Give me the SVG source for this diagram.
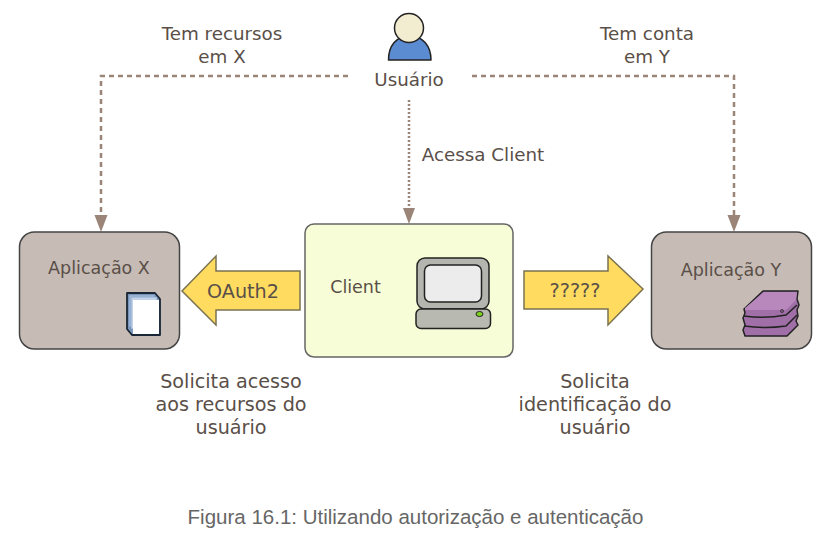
<svg xmlns="http://www.w3.org/2000/svg" width="828" height="536" viewBox="0 0 828 536">
<style>
text{font-family:"DejaVu Sans",Verdana,sans-serif;font-size:18.300px;fill:#5a4f48;text-anchor:middle}
.s{font-size:17.500px}
.l{font-size:19.200px}
.cap{font-family:"Liberation Sans",Arial,sans-serif;font-size:20.500px;fill:#666}
.app{fill:#c6bcb5;stroke:#444;stroke-width:1.5}
.arrow{fill:#ffdc60;stroke:#7a7250;stroke-width:1.5}
.dash{fill:none;stroke:#9a8578;stroke-width:2.5;stroke-dasharray:5 4}
.dot{fill:none;stroke:#9a8578;stroke-width:2.5;stroke-dasharray:2 2}
.ah{fill:#9a8578}
.ic{stroke:#222;stroke-width:1.5;stroke-linejoin:round}
</style>
<rect width="828" height="536" fill="#fff"/>
<g id="connectors">
<path class="dash" d="M348 76H101V217"/>
<path class="ah" d="M94.500 215H107.500L101 232Z"/>
<path class="dash" d="M472 76H734V217"/>
<path class="ah" d="M727.500 215H740.500L734 232Z"/>
<path class="dot" d="M409 100V210"/>
<path class="ah" d="M403 208H415L409 224Z"/>
</g>
<g id="usuario">
<path class="ic" d="M388.500 60C388.500 46 396 36 409.500 36C423 36 431 46 431 60Z" fill="#5b8bd0"/>
<circle class="ic" cx="409" cy="28" r="14.500" fill="#f2ecd0"/>
<text x="409" y="85.500">Usuário</text>
</g>
<g id="aplicacao-x">
<rect class="app" x="19.500" y="232" width="160" height="117" rx="15"/>
<text class="s" x="99" y="274">Aplicação X</text>
<path d="M127 293H155L160 299V335H132L127 329Z" fill="#7d98bd" stroke="#1a2535" stroke-width="1.800" stroke-linejoin="round"/>
<path d="M129 295H155V327H129Z" fill="#a9c1de" stroke="#6f8db5" stroke-width=".6"/>
<path d="M131 297H157V329H131Z" fill="#c3d4ea" stroke="#6f8db5" stroke-width=".6"/>
<path d="M133 300H159V334H133Z" fill="#fff"/>
</g>
<g id="client">
<rect x="305" y="224" width="208" height="133" rx="9" fill="#f7fdd6" stroke="#666" stroke-width="1.500"/>
<text class="s" x="355.500" y="293">Client</text>
<rect class="ic" x="417" y="258" width="72" height="51" rx="8" fill="#b4b5ae" stroke-width="2"/>
<rect class="ic" x="424.500" y="265" width="57" height="37" rx="6" fill="#ececec" stroke-width="2"/>
<rect class="ic" x="416" y="309" width="74.500" height="19.500" rx="5" fill="#b8b9b0" stroke-width="2"/>
<ellipse cx="479.500" cy="314" rx="3.500" ry="2.500" fill="#7ed321" stroke="#222"/>
</g>
<g id="oauth2">
<path class="arrow" d="M300 271V310H216V325L182 291L216 256V271Z"/>
<text class="l" x="243" y="298">OAuth2</text>
</g>
<g id="desconhecido">
<path class="arrow" d="M524 271H608V256L643 289L608 325V309H524Z"/>
<text class="l" x="575" y="297">?????</text>
</g>
<g id="aplicacao-y">
<rect class="app" x="651.500" y="232" width="160" height="117" rx="15"/>
<text class="s" x="731" y="275.500">Aplicação Y</text>
<path class="ic" d="M744 309L763 291H798L797 299L799 305L797 310L798 316L796 321L798 325L787 336H745L743 330L745 325L743 318L745 313Z" fill="#a06fa8" stroke-width="2"/>
<path d="M745 308L764 292H797L796 300L786 310H745Z" fill="#b888bd"/>
<path d="M744 316Q765 319 786 315L797 305M744 326Q765 329 786 326L797 315" fill="none" stroke="#222" stroke-width="1.500"/>
<circle cx="782" cy="311" r="1.500" fill="#8a5f90" stroke="#222" stroke-width=".7"/>
</g>
<g id="rotulos">
<text x="222" y="39.500">Tem recursos</text>
<text x="222" y="62.500">em X</text>
<text x="647" y="39.500">Tem conta</text>
<text x="647" y="62.500">em Y</text>
<text x="483" y="160.500">Acessa Client</text>
<text class="l" x="231" y="388">Solicita acesso</text>
<text class="l" x="231" y="411">aos recursos do</text>
<text class="l" x="231" y="434">usuário</text>
<text class="l" x="595" y="388">Solicita</text>
<text class="l" x="595" y="411">identificação do</text>
<text class="l" x="595" y="434">usuário</text>
<text class="cap" x="415.500" y="524">Figura 16.1: Utilizando autorização e autenticação</text>
</g>
</svg>
